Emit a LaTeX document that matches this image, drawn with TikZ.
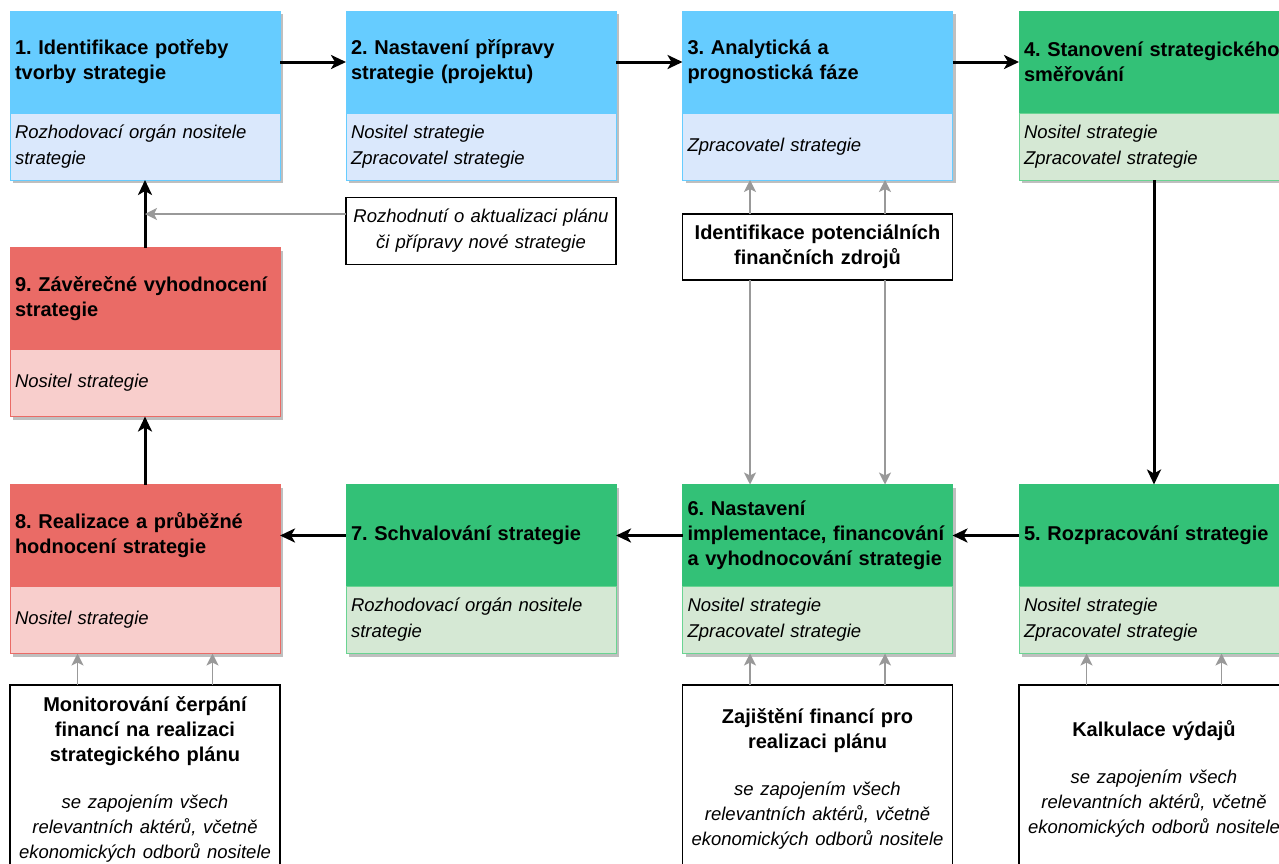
\documentclass[tikz,border=0pt]{standalone}
\usepackage{fontspec}
\setmainfont{Liberation Sans}
\usepackage{xcolor}
\usetikzlibrary{calc,arrows.meta,shadows,positioning}
\frenchspacing

\definecolor{blueHead}{HTML}{66CCFF}
\definecolor{blueSub}{HTML}{DAE8FC}
\definecolor{greenHead}{HTML}{33C177}
\definecolor{greenSub}{HTML}{D5E8D4}
\definecolor{greenLine}{HTML}{6AD492}
\definecolor{redHead}{HTML}{EA6B66}
\definecolor{redSub}{HTML}{F8CECC}
\definecolor{feedGray}{HTML}{999999}

\newcommand{\headfont}{\fontsize{20}{25}\selectfont\bfseries}
\newcommand{\rolefont}{\fontsize{18.5}{26}\selectfont\mdseries\itshape}

\begin{document}
\begin{tikzpicture}[
    x=1pt, y=-1pt,
    phase/.style={
      rectangle,
      minimum width=270pt,
      minimum height=102pt,
      text width=260pt,
      inner xsep=5pt,
      align=left,
      outer sep=0pt,
      line width=1pt,
      font=\headfont,
      drop shadow={shadow xshift=3pt, shadow yshift=-3pt, fill=black!25, opacity=1},
      draw=#1,
      fill=#1
    },
    role/.style 2 args={
      rectangle,
      minimum width=270pt,
      minimum height=67pt,
      text width=260pt,
      inner xsep=5pt,
      align=left,
      outer sep=0pt,
      line width=1pt,
      font=\rolefont,
      drop shadow={shadow xshift=3pt, shadow yshift=-3pt, fill=black!25, opacity=1},
      draw=#1,
      fill=#2
    },
    note/.style={
      rectangle,
      draw=black,
      fill=white,
      line width=1.2pt,
      outer sep=0pt,
      align=center,
      minimum width=270pt,
      text width=260pt,
      inner xsep=5pt
    },
    flow/.style={line width=3pt, -{Stealth[length=15pt, width=14pt, inset=4pt]}},
    feed/.style={draw=feedGray, line width=1.5pt, -{Stealth[length=12pt, width=12pt, inset=3pt]}}
  ]

    \useasboundingbox (0,0) rectangle (1279,863);
    \clip (0,0) rectangle (1279,863);

    % Top row: phases 1--4
    \node[phase=blueHead] (h1) at (145,62) {1. Identifikace potřeby\\tvorby strategie};
    \node[role={blueHead}{blueSub}, below=0pt of h1] (s1) {Rozhodovací orgán nositele\\strategie};

    \node[phase=blueHead] (h2) at (481,62) {2. Nastavení přípravy\\strategie (projektu)};
    \node[role={blueHead}{blueSub}, below=0pt of h2] (s2) {Nositel strategie\\Zpracovatel strategie};

    \node[phase=blueHead] (h3) at (817.5,62) {3. Analytická a\\prognostická fáze};
    \node[role={blueHead}{blueSub}, below=0pt of h3] (s3) {Zpracovatel strategie};

    \node[phase=greenHead] (h4) at (1154,62) {\mbox{4. Stanovení strategického}\\směřování};
    \node[role={greenLine}{greenSub}, below=0pt of h4] (s4) {Nositel strategie\\Zpracovatel strategie};

    % Middle row: phase 9
    \node[phase=redHead] (h9) at (145,298.5) {9. Závěrečné vyhodnocení\\strategie};
    \node[role={redHead}{redSub}, below=0pt of h9] (s9) {Nositel strategie};

    % Bottom row: phases 5--8
    \node[phase=greenHead] (h5) at (1154,535.5) {5. Rozpracování strategie};
    \node[role={greenLine}{greenSub}, below=0pt of h5] (s5) {Nositel strategie\\Zpracovatel strategie};

    \node[phase=greenHead] (h6) at (817.5,535.5) {6. Nastavení\\implementace, financování\\a vyhodnocování strategie};
    \node[role={greenLine}{greenSub}, below=0pt of h6] (s6) {Nositel strategie\\Zpracovatel strategie};

    \node[phase=greenHead] (h7) at (481,535.5) {7. Schvalování strategie};
    \node[role={greenLine}{greenSub}, below=0pt of h7] (s7) {Rozhodovací orgán nositele\\strategie};

    \node[phase=redHead] (h8) at (145,535.5) {8. Realizace a průběžné\\hodnocení strategie};
    \node[role={redHead}{redSub}, below=0pt of h8] (s8) {Nositel strategie};

    % Side notes
    \node[note, font=\rolefont, minimum height=67pt] (redo) at (481,231) {Rozhodnutí o aktualizaci plánu\\či přípravy nové strategie};
    \node[note, font=\headfont, minimum height=66pt] (src) at (817.5,247) {Identifikace potenciálních\\finančních zdrojů};

    \node[note, font=\headfont, minimum height=188pt] (mon) at (145,779) {
      Monitorování čerpání\\financí na realizaci\\strategického plánu\\[22pt]
      {\rolefont se zapojením všech}\\{\rolefont relevantních aktérů, včetně}\\{\rolefont ekonomických odborů nositele}
    };
    \node[note, font=\headfont, minimum height=188pt] (fin) at (817.5,779) {
      Zajištění financí pro\\realizaci plánu\\[22pt]
      {\rolefont se zapojením všech}\\{\rolefont relevantních aktérů, včetně}\\{\rolefont ekonomických odborů nositele}
    };
    \node[note, font=\headfont, minimum height=188pt] (cost) at (1154,779) {
      Kalkulace výdajů\\[22pt]
      {\rolefont se zapojením všech}\\{\rolefont relevantních aktérů, včetně}\\{\rolefont ekonomických odborů nositele}
    };

    % Main flow
    \draw[flow] (h1.east) -- (h2.west);
    \draw[flow] (h2.east) -- (h3.west);
    \draw[flow] (h3.east) -- (h4.west);
    \draw[flow] (s4.south) -- (h5.north);
    \draw[flow] (h5.west) -- (h6.east);
    \draw[flow] (h6.west) -- (h7.east);
    \draw[flow] (h7.west) -- (h8.east);
    \draw[flow] (h8.north) -- (s9.south);
    \draw[flow] (h9.north) -- (s1.south);

    % Supporting inputs
    \coordinate (join) at (145,214);
    \draw[feed] ([yshift=17pt]redo.west) -- (join);

    \foreach \f in {.25,.75} {
      \draw[feed] ($(src.north west)!\f!(src.north east)$) -- ($(s3.south west)!\f!(s3.south east)$);
      \draw[feed] ($(src.south west)!\f!(src.south east)$) -- ($(h6.north west)!\f!(h6.north east)$);
      \draw[feed] ($(mon.north west)!\f!(mon.north east)$) -- ($(s8.south west)!\f!(s8.south east)$);
      \draw[feed] ($(fin.north west)!\f!(fin.north east)$) -- ($(s6.south west)!\f!(s6.south east)$);
      \draw[feed] ($(cost.north west)!\f!(cost.north east)$) -- ($(s5.south west)!\f!(s5.south east)$);
    }

  \end{tikzpicture}
\end{document}
